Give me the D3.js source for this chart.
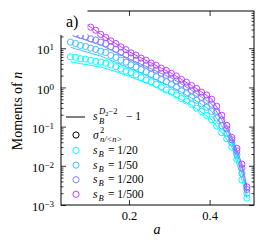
<!DOCTYPE html>
<html>
<head>
<meta charset="utf-8">
<script src="https://cdn.jsdelivr.net/npm/d3@7"></script>
<style>
	body { margin: 0; background: #fff; }
	text { font-family: "Liberation Serif", "DejaVu Serif", serif; fill: #000; }
</style>
</head>
<body>
<script>
//Data
var aPoints = [0.055, 0.0675, 0.08, 0.0925, 0.105, 0.1175, 0.13, 0.1425, 0.155, 0.1675, 0.18, 0.1925,
	0.205, 0.2175, 0.23, 0.2425, 0.255, 0.2675, 0.28, 0.2925, 0.305, 0.3175, 0.33, 0.3425,
	0.355, 0.3675, 0.38, 0.3925, 0.405, 0.4175, 0.43, 0.4425, 0.455, 0.4675, 0.48, 0.4925];

var sB20 = [6.05, 5.85, 5.40, 5.25, 4.92, 4.60, 4.46, 4.15, 3.76, 3.38, 2.95, 2.62,
	2.37, 2.10, 1.78, 1.55, 1.40, 1.21, 1.01, 0.86, 0.76, 0.64, 0.52, 0.45,
	0.37, 0.295, 0.245, 0.192, 0.150, 0.104, 0.070, 0.049, 0.030, 0.0145, 0.0044, 0.0015];
var sB50 = [14.3, 13.2, 11.8, 11.1, 10.0, 9.35, 8.40, 7.80, 6.55, 5.80, 4.95, 4.40,
	3.75, 3.30, 2.84, 2.50, 2.14, 1.88, 1.58, 1.39, 1.17, 1.00, 0.81, 0.70,
	0.56, 0.47, 0.38, 0.312, 0.245, 0.165, 0.105, 0.068, 0.038, 0.019, 0.0063, 0.0020];
var sB200 = [null, 23.5, 21.2, 19.7, 17.4, 16.2, 14.3, 13.1, 10.8, 9.35, 7.80, 6.75,
	5.65, 4.96, 4.20, 3.72, 3.15, 2.77, 2.32, 2.05, 1.72, 1.47, 1.21, 1.03,
	0.84, 0.71, 0.56, 0.47, 0.375, 0.246, 0.150, 0.088, 0.046, 0.024, 0.0088, 0.0025];
var sB500 = [null, null, null, null, 34.5, 28.8, 22.6, 18.9, 15.4, 13.2, 10.8, 9.2,
	7.6, 6.65, 5.60, 4.95, 4.18, 3.68, 3.10, 2.73, 2.29, 1.96, 1.60, 1.36,
	1.12, 0.94, 0.76, 0.64, 0.50, 0.33, 0.194, 0.107, 0.053, 0.028, 0.0110, 0.0029];

//Theory curves s_B^(D2-2) - 1
var aLine = [0.055, 0.0675, 0.08, 0.105, 0.13, 0.155, 0.18, 0.205, 0.23, 0.255,
	0.28, 0.305, 0.33, 0.355, 0.38, 0.405, 0.43, 0.455, 0.48, 0.4925];
var line20 = [4.50, 4.27, 4.05, 3.66, 3.30, 2.78, 2.29, 1.85, 1.46, 1.16,
	0.88, 0.67, 0.485, 0.349, 0.233, 0.151, 0.071, 0.031, 0.0044, 0.0015];
var line50 = [10.6, 9.67, 8.85, 7.51, 6.31, 4.93, 3.84, 2.98, 2.33, 1.80,
	1.37, 1.05, 0.75, 0.537, 0.371, 0.247, 0.106, 0.0387, 0.0064, 0.00196];
var line200 = [null, 19.7, 18.0, 14.7, 12.1, 9.13, 6.81, 5.07, 3.89, 3.00,
	2.28, 1.74, 1.22, 0.85, 0.57, 0.378, 0.151, 0.047, 0.0089, 0.00245];
var line500 = [null, null, 52.8, 34.5, 22.9, 15.6, 10.9, 7.67, 5.67, 4.22,
	3.12, 2.31, 1.61, 1.125, 0.77, 0.51, 0.195, 0.054, 0.0112, 0.0029];

var sBLabels = ["1/20", "1/50", "1/200", "1/500"];
var seriesColors = ["#00ffff", "#40bfff", "#8080ff", "#bf40ff"];
var xTicks = [0.2, 0.4];
var yExponents = [1, 0, -1, -2, -3];

function makeGraph() {
	//Width and height
	var w = 266;
	var h = 248;
	var left = 61, right = 254, top = 11, bottom = 205;

	var svg = d3.select("body")
		.append("svg")
		.attr("width", w)
		.attr("height", h);

	var xScale = d3.scaleLinear()
		.domain([0.0315, 0.51])
		.range([left, right]);

	var yScale = d3.scaleLog()
		.domain([1e-3, Math.pow(10, 1.95)])
		.range([bottom, top]);

	var circleSets = [sB20, sB50, sB200, sB500];
	var lineSets = [line20, line50, line200, line500];

	var plot = svg.append("g");

	var line = d3.line()
		.defined(function(d) { return d.v != null; })
		.x(function(d) { return xScale(d.a); })
		.y(function(d) { return yScale(d.v); });

	lineSets.forEach(function(vals, k) {
		var pts = aLine.map(function(a, i) { return {a: a, v: vals[i]}; });
		plot.append("path")
			.datum(pts)
			.attr("fill", "none")
			.attr("stroke", seriesColors[k])
			.attr("stroke-width", 1)
			.attr("d", line);
	});

	circleSets.forEach(function(vals, k) {
		var pts = aPoints.map(function(a, i) { return {a: a, v: vals[i]}; })
			.filter(function(d) { return d.v != null; });
		plot.selectAll("circle.s" + k)
			.data(pts)
			.enter()
			.append("circle")
			.attr("class", "s" + k)
			.attr("cx", function(d) { return xScale(d.a); })
			.attr("cy", function(d) { return yScale(d.v); })
			.attr("r", 3.1)
			.attr("fill", "none")
			.attr("stroke", seriesColors[k])
			.attr("stroke-width", 1);
	});

	//Minor ticks for the log axis
	var minorTicks = [];
	for (var e = -3; e < 2; e++) {
		for (var m = 2; m < 10; m++) {
			var v = m * Math.pow(10, e);
			if (v < yScale.domain()[1]) minorTicks.push(v);
		}
	}
	var majorY = yExponents.map(function(p) { return Math.pow(10, p); });

	var yAxis = d3.axisLeft(yScale)
		.tickValues(majorY)
		.tickSizeInner(-5)
		.tickSizeOuter(0)
		.tickPadding(7)
		.tickFormat("");
	var yMinor = d3.axisLeft(yScale).tickValues(minorTicks).tickSizeInner(-2.5).tickSizeOuter(0).tickFormat("");
	var yAxisR = d3.axisRight(yScale).tickValues(majorY).tickSizeInner(-5).tickSizeOuter(0).tickFormat("");
	var yMinorR = d3.axisRight(yScale).tickValues(minorTicks).tickSizeInner(-2.5).tickSizeOuter(0).tickFormat("");

	var xAxis = d3.axisBottom(xScale)
		.tickValues(xTicks)
		.tickSizeInner(-5)
		.tickSizeOuter(0)
		.tickPadding(6)
		.tickFormat(d3.format(".1f"));
	var xAxisT = d3.axisTop(xScale).tickValues(xTicks).tickSizeInner(-5).tickSizeOuter(0).tickFormat("");

	var gy = svg.append("g").attr("transform", "translate(" + left + ",0)").call(yAxis);
	svg.append("g").attr("transform", "translate(" + left + ",0)").call(yMinor);
	svg.append("g").attr("transform", "translate(" + right + ",0)").call(yAxisR);
	svg.append("g").attr("transform", "translate(" + right + ",0)").call(yMinorR);
	var gx = svg.append("g").attr("transform", "translate(0," + bottom + ")").call(xAxis);
	svg.append("g").attr("transform", "translate(0," + top + ")").call(xAxisT);

	svg.selectAll(".domain").remove();
	svg.selectAll(".tick line").attr("stroke", "#000").attr("stroke-width", 0.8);

	gx.selectAll("text")
		.style("font-family", "Liberation Serif, serif")
		.attr("font-size", 12.5);

	//Tick labels as 10 with superscript
	gy.selectAll(".tick text")
		.attr("font-size", 12.5)
		.style("font-family", "Liberation Serif, serif")
		.attr("dy", "0.45em")
		.each(function(d) {
			var t = d3.select(this);
			var p = Math.round(Math.log10(d));
			t.append("tspan").text("10");
			t.append("tspan")
				.attr("dy", "-0.45em")
				.attr("font-size", 9)
				.text(p < 0 ? "\u2212" + (-p) : p);
		});

	//Frame
	svg.append("rect")
		.attr("x", left)
		.attr("y", top)
		.attr("width", right - left)
		.attr("height", bottom - top)
		.attr("fill", "none")
		.attr("stroke", "#000")
		.attr("stroke-width", 1);

	//Panel label with white box
	svg.append("rect")
		.attr("x", 0)
		.attr("y", 0)
		.attr("width", 87.5)
		.attr("height", 35)
		.attr("fill", "#fff");
	svg.append("text")
		.attr("x", 66)
		.attr("y", 27)
		.attr("font-size", 16)
		.text("a)");

	//Axis labels
	svg.append("text")
		.attr("x", 157)
		.attr("y", 234)
		.attr("text-anchor", "middle")
		.attr("font-size", 14)
		.attr("font-style", "italic")
		.text("a");

	var ylab = svg.append("text")
		.attr("transform", "translate(22,111) rotate(-90)")
		.attr("text-anchor", "middle")
		.attr("font-size", 14);
	ylab.append("tspan").text("Moments of ");
	ylab.append("tspan").attr("font-style", "italic").text("n");

	//Legend
	var lg = svg.append("g").attr("font-size", 11.5);
	lg.append("line")
		.attr("x1", 66).attr("x2", 85)
		.attr("y1", 117).attr("y2", 117)
		.attr("stroke", "#000").attr("stroke-width", 1);
	lg.append("text").attr("x", 93).attr("y", 120).attr("font-style", "italic").text("s");
	var sup = lg.append("text").attr("x", 99).attr("y", 114).attr("font-size", 8.5);
	sup.append("tspan").attr("font-style", "italic").text("D");
	sup.append("tspan").attr("dy", 2).attr("font-size", 6.5).text("2");
	sup.append("tspan").attr("dy", -2).text("\u22122");
	lg.append("text").attr("x", 99).attr("y", 123.5).attr("font-size", 8.5).attr("font-style", "italic").text("B");
	lg.append("text").attr("x", 126).attr("y", 120).text("\u2212 1");

	lg.append("circle").attr("cx", 76).attr("cy", 135).attr("r", 3.1)
		.attr("fill", "none").attr("stroke", "#000").attr("stroke-width", 1);
	lg.append("text").attr("x", 93).attr("y", 139).attr("font-style", "italic").text("\u03c3");
	lg.append("text").attr("x", 100).attr("y", 133).attr("font-size", 8.5).text("2");
	lg.append("text").attr("x", 100).attr("y", 142).attr("font-size", 8.5).attr("font-style", "italic").text("n/<n>");

	sBLabels.forEach(function(lab, k) {
		var yy = 150.5 + k * 14.6;
		lg.append("circle").attr("cx", 76).attr("cy", yy).attr("r", 3.1)
			.attr("fill", "none").attr("stroke", seriesColors[k]).attr("stroke-width", 1);
		lg.append("text").attr("x", 93).attr("y", yy + 3.5).attr("font-style", "italic").text("s");
		lg.append("text").attr("x", 98.5).attr("y", yy + 6.5).attr("font-size", 8.5).attr("font-style", "italic").text("B");
		lg.append("text").attr("x", 108).attr("y", yy + 3.5).text("= " + lab);
	});
}

makeGraph();
</script>
</body>
</html>
